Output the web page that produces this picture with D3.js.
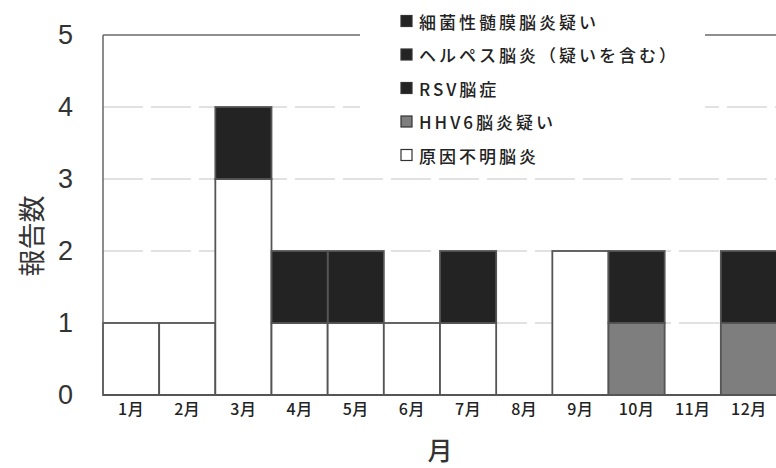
<!DOCTYPE html>
<html>
<head>
<meta charset="utf-8">
<script src="https://cdn.jsdelivr.net/npm/d3@7"></script>
<style>
  body { margin: 0; background: #fff; }
  svg { display: block; }
</style>
</head>
<body>
<svg width="776" height="468"></svg>
<script>
// data
const months = ['1月','2月','3月','4月','5月','6月','7月','8月','9月','10月','11月','12月'];
const seriesNames = ['細菌性髄膜脳炎疑い','ヘルペス脳炎（疑いを含む）','RSV脳症','HHV6脳炎疑い','原因不明脳炎'];
const bacterial = [0,0,0,1,0,0,1,0,0,0,0,0];
const herpes    = [0,0,0,0,1,0,0,0,0,1,0,0];
const rsv       = [0,0,1,0,0,0,0,0,0,0,0,1];
const hhv6      = [0,0,0,0,0,0,0,0,0,1,0,1];
const unknown   = [1,1,3,1,1,1,1,0,2,0,0,0];
const yTicks = [0,1,2,3,4,5];

const svg = d3.select('svg');
const width = +(svg.attr('width'));
const height = +(svg.attr('height'));

const jp = '"Noto Sans CJK JP", "Noto Sans", sans-serif';
const colors = { '細菌性髄膜脳炎疑い': '#232323', 'ヘルペス脳炎（疑いを含む）': '#232323',
                 'RSV脳症': '#232323', 'HHV6脳炎疑い': '#7e7e7e', '原因不明脳炎': '#ffffff' };

// table: one row per month
const table = months.map((m, i) => ({
  month: m,
  '細菌性髄膜脳炎疑い': bacterial[i],
  'ヘルペス脳炎（疑いを含む）': herpes[i],
  'RSV脳症': rsv[i],
  'HHV6脳炎疑い': hhv6[i],
  '原因不明脳炎': unknown[i]
}));

const render = function (data) {
  const plot = { left: 103, right: 777, top: 35, bottom: 395 };

  const xScale = d3.scaleBand()
    .domain(months)
    .range([plot.left, plot.right])
    .padding(0);

  const yScale = d3.scaleLinear()
    .domain([0, 5])
    .range([plot.bottom, plot.top]);

  // gridlines 1..4 dashed, 5 solid
  svg.append('g').selectAll('line')
    .data(yTicks.filter(t => t > 0))
    .enter().append('line')
    .attr('x1', plot.left).attr('x2', width)
    .attr('y1', d => yScale(d)).attr('y2', d => yScale(d))
    .attr('stroke', d => d === 5 ? '#6a6a6a' : '#c4c4c4')
    .attr('stroke-width', d => d === 5 ? 1.5 : 1)
    .attr('stroke-dasharray', d => d === 5 ? null : '40,8');

  // bottom up: unknown, hhv6, then the black ones
  const keys = ['原因不明脳炎','HHV6脳炎疑い','RSV脳症','ヘルペス脳炎（疑いを含む）','細菌性髄膜脳炎疑い'];
  const stacked = d3.stack().keys(keys)(data);

  svg.append('g').selectAll('g')
    .data(stacked)
    .enter().append('g')
    .attr('fill', d => colors[d.key])
    .selectAll('rect')
    .data(d => d.filter(s => s[1] - s[0] > 0))
    .enter().append('rect')
    .attr('x', d => xScale(d.data.month))
    .attr('y', d => yScale(d[1]))
    .attr('width', xScale.bandwidth())
    .attr('height', d => yScale(d[0]) - yScale(d[1]))
    .attr('stroke', '#555')
    .attr('stroke-width', 1.8);

  // axis lines
  svg.append('line')
    .attr('x1', plot.left).attr('x2', plot.left)
    .attr('y1', plot.top).attr('y2', plot.bottom)
    .attr('stroke', '#666').attr('stroke-width', 1.5);
  svg.append('line')
    .attr('x1', plot.left).attr('x2', width)
    .attr('y1', plot.bottom).attr('y2', plot.bottom)
    .attr('stroke', '#555').attr('stroke-width', 2);

  // y tick labels
  const yAxis = d3.axisLeft(yScale).tickValues(yTicks).tickFormat(d3.format('d'))
    .tickSize(0).tickPadding(30);
  const ya = svg.append('g').attr('transform', `translate(${plot.left},0)`).call(yAxis);
  ya.select('.domain').remove();
  ya.selectAll('text')
    .attr('font-family', '"Liberation Sans", Arial, sans-serif')
    .attr('font-size', 27).attr('fill', '#333');

  // x tick labels
  const xAxis = d3.axisBottom(xScale).tickSize(0).tickPadding(9);
  const xa = svg.append('g').attr('transform', `translate(0,${plot.bottom})`).call(xAxis);
  xa.select('.domain').remove();
  xa.selectAll('text')
    .attr('font-family', jp).attr('font-size', 16).attr('font-weight', 500)
    .attr('fill', '#222').attr('letter-spacing', 0.5);

  // axis titles
  svg.append('text')
    .attr('transform', 'translate(30,236) rotate(-90)')
    .attr('text-anchor', 'middle').attr('dominant-baseline', 'central')
    .attr('font-family', jp).attr('font-size', 27).attr('fill', '#333')
    .text('報告数');
  svg.append('text')
    .attr('x', 440).attr('y', 449)
    .attr('text-anchor', 'middle').attr('dominant-baseline', 'central')
    .attr('font-family', jp).attr('font-size', 25).attr('font-weight', 500)
    .attr('fill', '#333')
    .text('月');

  // legend, white box over the top gridlines
  const legend = svg.append('g');
  legend.append('rect')
    .attr('x', 360).attr('y', 0).attr('width', 345).attr('height', 172)
    .attr('fill', '#fff');
  const rowY = d3.scalePoint().domain(seriesNames).range([21, 155]);
  const items = legend.selectAll('g.item')
    .data(seriesNames)
    .enter().append('g')
    .attr('class', 'item')
    .attr('transform', d => `translate(401,${rowY(d)})`);
  items.append('rect')
    .attr('x', 0).attr('y', -5.5).attr('width', 11).attr('height', 11)
    .attr('fill', d => colors[d])
    .attr('stroke', '#333').attr('stroke-width', 1.2);
  items.append('text')
    .attr('x', 18).attr('dominant-baseline', 'central')
    .attr('font-family', jp).attr('font-size', 17).attr('font-weight', 500)
    .attr('letter-spacing', 3).attr('fill', '#222')
    .text(d => d);
};

render(table);
</script>
</body>
</html>
